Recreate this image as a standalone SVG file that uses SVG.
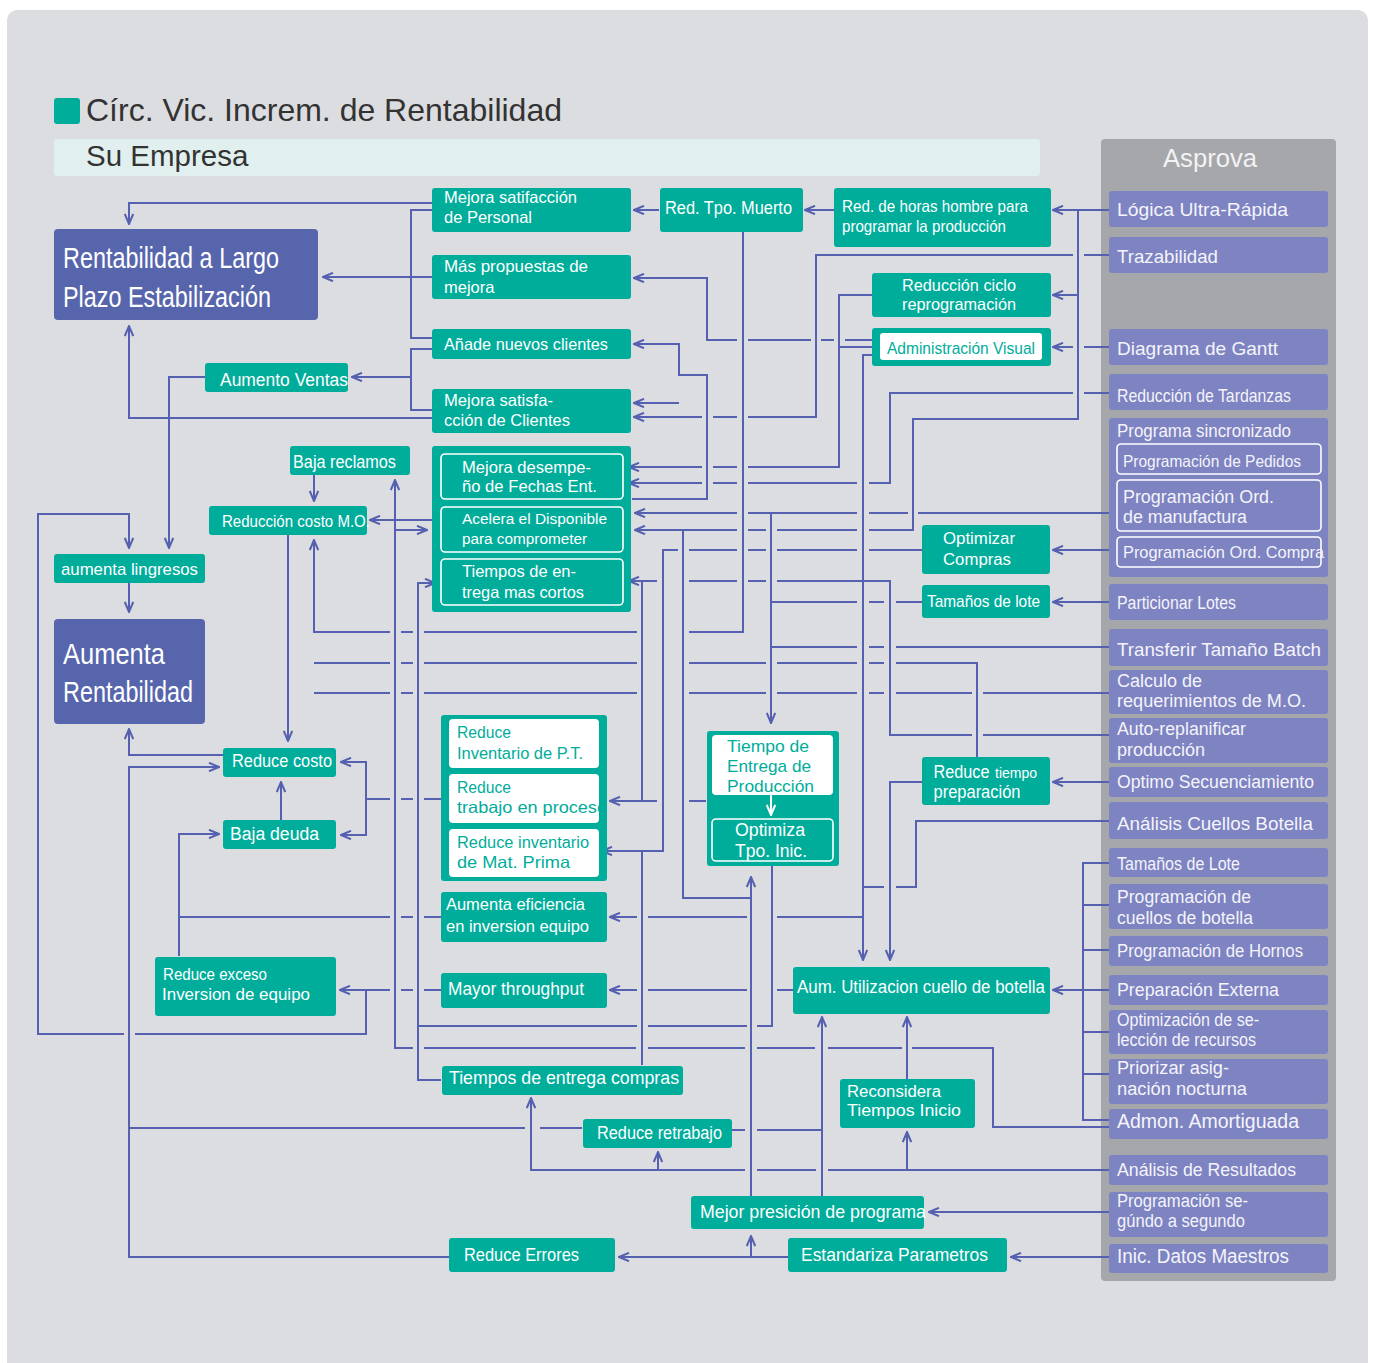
<svg xmlns="http://www.w3.org/2000/svg" width="1373" height="1363" viewBox="0 0 1373 1363">
<defs>
<marker id="ah" viewBox="0 0 12 10" refX="11" refY="5" markerWidth="12" markerHeight="10" markerUnits="userSpaceOnUse" orient="auto"><path d="M1,0.8 L11,5 L1,9.2" fill="none" stroke="#5560b0" stroke-width="2"/></marker>
<marker id="aw" viewBox="0 0 12 10" refX="11" refY="5" markerWidth="12" markerHeight="10" markerUnits="userSpaceOnUse" orient="auto"><path d="M1,0.8 L11,5 L1,9.2" fill="none" stroke="#ffffff" stroke-width="2"/></marker>
</defs>
<style>
.tl{fill:#00ad9b}
.db{fill:#5765ad}
.pu{fill:#7e83c2}
.pn{fill:#a6a7ab}
.wf{fill:#ffffff}
.wo{fill:none;stroke:#ffffff;stroke-width:1.6}
.c{fill:none;stroke:#5560b0;stroke-width:2}
.a{marker-end:url(#ah)}
text{font-family:"Liberation Sans",Arial,sans-serif}
.tw{fill:#ffffff}
.tt{fill:#00ad9b}
.tp{fill:#f4f4fa}
</style>
<rect x="0" y="0" width="1373" height="1363" fill="#ffffff"/>
<rect x="7" y="10" width="1361" height="1370" rx="10" fill="#dcdde0"/>

<g id="title">
<rect x="54" y="98" width="26" height="26" rx="3" class="tl"/>
<text x="86" y="121" font-size="32" fill="#333333" textLength="476" lengthAdjust="spacingAndGlyphs">Círc. Vic. Increm. de Rentabilidad</text>
<rect x="54" y="139" width="986" height="37" rx="3" fill="#e1f0ee"/>
<text x="86" y="165.5" font-size="29.5" fill="#333333">Su Empresa</text>
</g>

<g id="asprova-panel">
<rect x="1101" y="139" width="235" height="1142" rx="4" class="pn"/>
<text x="1163" y="167" font-size="25" fill="#f2f2f4" textLength="94" lengthAdjust="spacingAndGlyphs">Asprova</text>
</g>

<g id="connectors">
<path class="c a" d="M432,203 H129 V224"/>
<path class="c" d="M432,210 H411 V338 H432"/>
<path class="c a" d="M432,277 H323"/>
<path class="c" d="M432,349 H411 V410 H432"/>
<path class="c a" d="M411,377 H352"/>
<path class="c a" d="M432,418 H129 V326"/>
<path class="c a" d="M205,377 H169 V548"/>
<path class="c a" d="M441,990 H424 M413,990 H401 M390,990 H340"/>
<path class="c a" d="M366,990 V1034 H135 M124,1034 H38 V514 H129 V548"/>
<path class="c a" d="M129,583 V612"/>
<path class="c a" d="M314,475 V501"/>
<path class="c a" d="M432,520 H370"/>
<path class="c a" d="M1109,1127 H993 V1048 H912 M902,1048 H828 M815,1048 H757 M745,1048 H648 M636,1048 H424 M413,1048 H395 V530 H427"/>
<path class="c a" d="M395,530 V480"/>
<path class="c a" d="M441,1080 H418 V583 H435"/>
<path class="c" d="M772,866 V1026 H757 M747,1026 H648 M637,1026 H418"/>
<path class="c a" d="M743,232 V632 H689 M637,632 H424 M413,632 H401 M390,632 H314 V540"/>
<path class="c" d="M977,757 V663 H896 M884,663 H869 M857,663 H777 M766,663 H689 M637,663 H424 M413,663 H401 M390,663 H314"/>
<path class="c" d="M1109,693 H983 M972,693 H896 M884,693 H869 M857,693 H777 M766,693 H689 M637,693 H424 M413,693 H401 M390,693 H314"/>
<path class="c a" d="M288,535 V741"/>
<path class="c a" d="M223,755 H129 V729"/>
<path class="c a" d="M449,1257 H129 V767 H219"/>
<path class="c" d="M582,1128 H540 M525,1128 H129"/>
<path class="c a" d="M441,799 H424 M413,799 H401 M390,799 H366 V762 H341"/>
<path class="c a" d="M366,799 V835 H341"/>
<path class="c a" d="M281,820 V782"/>
<path class="c a" d="M179,956 V834 H219"/>
<path class="c" d="M441,917 H424 M413,917 H401 M390,917 H179"/>
<path class="c a" d="M872,340 H845 M834,340 H821 M811,340 H748 M737,340 H707 V278 H634"/>
<path class="c a" d="M659,210 H634"/>
<path class="c a" d="M834,210 H805"/>
<path class="c a" d="M1109,210 H1053"/>
<path class="c a" d="M1078,210 V419 H913 V530 H869 M857,530 H777 M766,530 H748 M737,530 H635"/>
<path class="c a" d="M1078,295 H1053"/>
<path class="c a" d="M751,1196 V877"/>
<path class="c" d="M751,898 H683 V530"/>
<path class="c a" d="M1109,255 H1084 M1073,255 H816 V417 H748 M737,417 H713 M702,417 H634"/>
<path class="c a" d="M1109,347 H1084 M1073,347 H1053"/>
<path class="c a" d="M872,295 H839 V467 H748 M737,467 H713 M702,467 H629"/>
<path class="c" d="M872,347 H839"/>
<path class="c a" d="M1109,393 H1084 M1073,393 H890 V483 H869 M857,483 H748 M737,483 H713 M702,483 H629"/>
<path class="c a" d="M632,499 H707 V375 H679 V344 H634"/>
<path class="c a" d="M679,403 H634"/>
<path class="c a" d="M872,355 H863 V960"/>
<path class="c" d="M1109,821 H916 V887 H896 M884,887 H863"/>
<path class="c a" d="M863,917 H777 M747,917 H648 M637,917 H610"/>
<path class="c a" d="M1109,513 H918 M908,513 H869 M857,513 H748 M737,513 H635"/>
<path class="c a" d="M771,513 V723"/>
<path class="c a" d="M922,550 H869 M857,550 H777 M766,550 H748 M737,550 H689 M678,550 H663 V851 H602"/>
<path class="c" d="M642,1065 V851"/>
<path class="c a" d="M1116,550 H1053"/>
<path class="c a" d="M1109,735 H983 M972,735 H890 V581 H777 M766,581 H748 M737,581 H689 M657,581 H629"/>
<path class="c a" d="M706,801 H689 M657,801 H610"/>
<path class="c" d="M642,801 V581"/>
<path class="c a" d="M1109,602 H1053"/>
<path class="c" d="M922,602 H896 M884,602 H869 M857,602 H771"/>
<path class="c" d="M1109,647 H896 M884,647 H869 M857,647 H771"/>
<path class="c a" d="M1109,782 H1053"/>
<path class="c a" d="M922,782 H890 V960"/>
<path class="c a" d="M793,990 H777 M747,990 H648 M637,990 H610"/>
<path class="c" d="M1109,863 H1083 V1120 H1109 M1083,905 H1109 M1083,950 H1109 M1083,1032 H1109 M1083,1074 H1109"/>
<path class="c a" d="M1109,990 H1053"/>
<path class="c a" d="M822,1196 V1017"/>
<path class="c" d="M732,1130 H745 M757,1130 H822"/>
<path class="c a" d="M907,1079 V1017"/>
<path class="c a" d="M1109,1170 H828 M816,1170 H757 M745,1170 H531 V1098"/>
<path class="c a" d="M907,1170 V1132"/>
<path class="c a" d="M658,1170 V1152"/>
<path class="c a" d="M1109,1212 H929"/>
<path class="c a" d="M1109,1257 H1011"/>
<path class="c a" d="M789,1257 H619"/>
<path class="c a" d="M751,1257 V1236"/>
</g>

<g id="n-rentabilidad-largo">
<rect x="54" y="229" width="264" height="91" rx="4" class="db"/>
<text x="63" y="268" font-size="29" class="tw" textLength="216" lengthAdjust="spacingAndGlyphs">Rentabilidad a Largo</text>
<text x="63" y="307" font-size="29" class="tw" textLength="208" lengthAdjust="spacingAndGlyphs">Plazo Estabilización</text>
</g>
<g id="n-aumenta-rentabilidad">
<rect x="54" y="619" width="151" height="105" rx="4" class="db"/>
<text x="63" y="664" font-size="30" class="tw" textLength="102" lengthAdjust="spacingAndGlyphs">Aumenta</text>
<text x="63" y="702" font-size="30" class="tw" textLength="130" lengthAdjust="spacingAndGlyphs">Rentabilidad</text>
</g>
<g id="n-aumenta-ingresos">
<rect x="54" y="554" width="151" height="29" rx="3" class="tl"/>
<text x="61" y="575" font-size="17" class="tw" textLength="137" lengthAdjust="spacingAndGlyphs">aumenta lingresos</text>
</g>
<g id="n-aumento-ventas">
<rect x="205" y="363" width="143" height="29" rx="3" class="tl"/>
<text x="220" y="386" font-size="18" class="tw" textLength="128" lengthAdjust="spacingAndGlyphs">Aumento Ventas</text>
</g>
<g id="n-baja-reclamos">
<rect x="290" y="446" width="120" height="29" rx="3" class="tl"/>
<text x="293" y="468" font-size="17.5" class="tw" textLength="103" lengthAdjust="spacingAndGlyphs">Baja reclamos</text>
</g>
<g id="n-reduccion-costo-mo">
<rect x="209" y="506" width="158" height="29" rx="3" class="tl"/>
<text x="222" y="527" font-size="17" class="tw" textLength="148" lengthAdjust="spacingAndGlyphs">Reducción costo M.O.</text>
</g>
<g id="n-reduce-costo">
<rect x="223" y="748" width="113" height="29" rx="3" class="tl"/>
<text x="232" y="767" font-size="18" class="tw" textLength="100" lengthAdjust="spacingAndGlyphs">Reduce costo</text>
</g>
<g id="n-baja-deuda">
<rect x="223" y="820" width="113" height="29" rx="3" class="tl"/>
<text x="230" y="840" font-size="18" class="tw" textLength="89" lengthAdjust="spacingAndGlyphs">Baja deuda</text>
</g>
<g id="n-reduce-exceso">
<rect x="155" y="957" width="181" height="59" rx="3" class="tl"/>
<text x="163" y="980" font-size="17" class="tw" textLength="104" lengthAdjust="spacingAndGlyphs">Reduce exceso</text>
<text x="162" y="1000" font-size="17" class="tw" textLength="148" lengthAdjust="spacingAndGlyphs">Inversion de equipo</text>
</g>
<g id="n-mejora-personal">
<rect x="432" y="188" width="199" height="44" rx="3" class="tl"/>
<text x="444" y="203" font-size="16.5" class="tw" textLength="133" lengthAdjust="spacingAndGlyphs">Mejora satifacción</text>
<text x="444" y="223" font-size="16.5" class="tw" textLength="88" lengthAdjust="spacingAndGlyphs">de Personal</text>
</g>
<g id="n-mas-propuestas">
<rect x="432" y="255" width="199" height="44" rx="3" class="tl"/>
<text x="444" y="272" font-size="16.5" class="tw" textLength="144" lengthAdjust="spacingAndGlyphs">Más propuestas de</text>
<text x="444" y="293" font-size="16.5" class="tw">mejora</text>
</g>
<g id="n-anade-clientes">
<rect x="432" y="329" width="199" height="30" rx="3" class="tl"/>
<text x="444" y="350" font-size="16.5" class="tw" textLength="164" lengthAdjust="spacingAndGlyphs">Añade nuevos clientes</text>
</g>
<g id="n-mejora-clientes">
<rect x="432" y="389" width="199" height="44" rx="3" class="tl"/>
<text x="444" y="406" font-size="16.5" class="tw" textLength="109" lengthAdjust="spacingAndGlyphs">Mejora satisfa-</text>
<text x="444" y="426" font-size="16.5" class="tw" textLength="126" lengthAdjust="spacingAndGlyphs">cción de Clientes</text>
</g>
<g id="n-grupo-fechas">
<rect x="432" y="446" width="199" height="166" rx="3" class="tl"/>
<rect x="441" y="454" width="182" height="45" rx="4" class="wo"/>
<rect x="441" y="507" width="182" height="45" rx="4" class="wo"/>
<rect x="441" y="559" width="182" height="46" rx="4" class="wo"/>
<text x="462" y="472.7" font-size="16.5" class="tw" textLength="129" lengthAdjust="spacingAndGlyphs">Mejora desempe-</text>
<text x="462" y="492.3" font-size="16.5" class="tw" textLength="135" lengthAdjust="spacingAndGlyphs">ño de Fechas Ent.</text>
<text x="462" y="524.3" font-size="15.5" class="tw" textLength="145" lengthAdjust="spacingAndGlyphs">Acelera el Disponible</text>
<text x="462" y="544.3" font-size="15.5" class="tw" textLength="125" lengthAdjust="spacingAndGlyphs">para comprometer</text>
<text x="462" y="577.3" font-size="16.5" class="tw" textLength="114" lengthAdjust="spacingAndGlyphs">Tiempos de en-</text>
<text x="462" y="597.7" font-size="16.5" class="tw" textLength="122" lengthAdjust="spacingAndGlyphs">trega mas cortos</text>
</g>
<g id="n-red-tpo-muerto">
<rect x="660" y="188" width="143" height="44" rx="3" class="tl"/>
<text x="665" y="214" font-size="18" class="tw" textLength="127" lengthAdjust="spacingAndGlyphs">Red. Tpo. Muerto</text>
</g>
<g id="n-red-horas">
<rect x="834" y="188" width="217" height="59" rx="3" class="tl"/>
<text x="842" y="212" font-size="16.5" class="tw" textLength="186" lengthAdjust="spacingAndGlyphs">Red. de horas hombre para</text>
<text x="842" y="232" font-size="16.5" class="tw" textLength="164" lengthAdjust="spacingAndGlyphs">programar la producción</text>
</g>
<g id="n-reduccion-ciclo">
<rect x="872" y="273" width="179" height="44" rx="3" class="tl"/>
<text x="902" y="291" font-size="16.5" class="tw" textLength="114" lengthAdjust="spacingAndGlyphs">Reducción ciclo</text>
<text x="902" y="310" font-size="16.5" class="tw" textLength="114" lengthAdjust="spacingAndGlyphs">reprogramación</text>
</g>
<g id="n-admin-visual">
<rect x="872" y="328" width="179" height="38" rx="3" class="tl"/>
<rect x="880" y="333" width="162" height="27" rx="3" class="wf"/>
<text x="887" y="354" font-size="17" class="tt" textLength="148" lengthAdjust="spacingAndGlyphs">Administración Visual</text>
</g>
<g id="n-optimizar-compras">
<rect x="922" y="525" width="128" height="49" rx="3" class="tl"/>
<text x="943" y="544" font-size="17" class="tw" textLength="72" lengthAdjust="spacingAndGlyphs">Optimizar</text>
<text x="943" y="565" font-size="17" class="tw" textLength="68" lengthAdjust="spacingAndGlyphs">Compras</text>
</g>
<g id="n-tamanos-lote">
<rect x="922" y="585" width="128" height="33" rx="3" class="tl"/>
<text x="927" y="607" font-size="17" class="tw" textLength="113" lengthAdjust="spacingAndGlyphs">Tamaños de lote</text>
</g>
<g id="n-reduce-tiempo-prep">
<rect x="922" y="757" width="128" height="48" rx="3" class="tl"/>
<text x="933.5" y="778" font-size="17.5" class="tw" textLength="56" lengthAdjust="spacingAndGlyphs">Reduce</text>
<text x="995" y="778" font-size="14" class="tw" textLength="42" lengthAdjust="spacingAndGlyphs">tiempo</text>
<text x="933.5" y="798" font-size="17.5" class="tw" textLength="87" lengthAdjust="spacingAndGlyphs">preparación</text>
</g>
<g id="n-tiempo-entrega-prod">
<rect x="707" y="731" width="132" height="135" rx="3" class="tl"/>
<rect x="712" y="735" width="121" height="60" rx="4" class="wf"/>
<text x="727" y="752" font-size="17" class="tt" textLength="82" lengthAdjust="spacingAndGlyphs">Tiempo de</text>
<text x="727" y="772" font-size="17" class="tt" textLength="84" lengthAdjust="spacingAndGlyphs">Entrega de</text>
<text x="727" y="792" font-size="17" class="tt" textLength="87" lengthAdjust="spacingAndGlyphs">Producción</text>
<path d="M771,795 V815" fill="none" stroke="#ffffff" stroke-width="2" marker-end="url(#aw)"/>
<rect x="712" y="819" width="121" height="42" rx="4" class="wo"/>
<text x="770" y="836" font-size="17.5" class="tw" text-anchor="middle" textLength="70" lengthAdjust="spacingAndGlyphs">Optimiza</text>
<text x="771" y="857" font-size="17.5" class="tw" text-anchor="middle" textLength="72" lengthAdjust="spacingAndGlyphs">Tpo. Inic.</text>
</g>
<g id="n-grupo-inventario">
<rect x="441" y="715" width="166" height="166" rx="3" class="tl"/>
<rect x="449" y="719" width="150" height="49" rx="4" class="wf"/>
<rect x="449" y="774" width="150" height="49" rx="4" class="wf"/>
<rect x="449" y="829" width="150" height="48" rx="4" class="wf"/>
<text x="457" y="738.3" font-size="16" class="tt" textLength="54" lengthAdjust="spacingAndGlyphs">Reduce</text>
<text x="457" y="759" font-size="16" class="tt" textLength="126" lengthAdjust="spacingAndGlyphs">Inventario de P.T.</text>
<text x="457" y="792.7" font-size="16" class="tt" textLength="54" lengthAdjust="spacingAndGlyphs">Reduce</text>
<text x="457" y="813.3" font-size="16.5" class="tt" textLength="150" lengthAdjust="spacingAndGlyphs">trabajo en proceso</text>
<text x="457" y="847.7" font-size="16" class="tt" textLength="132" lengthAdjust="spacingAndGlyphs">Reduce inventario</text>
<text x="457" y="868.3" font-size="16.5" class="tt" textLength="113" lengthAdjust="spacingAndGlyphs">de Mat. Prima</text>
</g>
<g id="n-aumenta-eficiencia">
<rect x="441" y="892" width="166" height="50" rx="3" class="tl"/>
<text x="446" y="910" font-size="16" class="tw" textLength="139" lengthAdjust="spacingAndGlyphs">Aumenta eficiencia</text>
<text x="446" y="931.7" font-size="16" class="tw" textLength="143" lengthAdjust="spacingAndGlyphs">en inversion equipo</text>
</g>
<g id="n-mayor-throughput">
<rect x="441" y="973" width="166" height="35" rx="3" class="tl"/>
<text x="448" y="995" font-size="17.5" class="tw" textLength="136" lengthAdjust="spacingAndGlyphs">Mayor throughput</text>
</g>
<g id="n-aum-utilizacion">
<rect x="793" y="967" width="257" height="47" rx="3" class="tl"/>
<text x="797" y="993" font-size="17.5" class="tw" textLength="248" lengthAdjust="spacingAndGlyphs">Aum. Utilizacion cuello de botella</text>
</g>
<g id="n-tiempos-entrega-compras">
<rect x="442" y="1066" width="241" height="29" rx="3" class="tl"/>
<text x="449" y="1083.5" font-size="18.5" class="tw" textLength="230" lengthAdjust="spacingAndGlyphs">Tiempos de entrega compras</text>
</g>
<g id="n-reduce-retrabajo">
<rect x="583" y="1119" width="149" height="29" rx="3" class="tl"/>
<text x="597" y="1138.5" font-size="18" class="tw" textLength="125" lengthAdjust="spacingAndGlyphs">Reduce retrabajo</text>
</g>
<g id="n-reconsidera">
<rect x="840" y="1079" width="135" height="49" rx="3" class="tl"/>
<text x="847" y="1097" font-size="16" class="tw" textLength="94" lengthAdjust="spacingAndGlyphs">Reconsidera</text>
<text x="847" y="1116" font-size="16" class="tw" textLength="114" lengthAdjust="spacingAndGlyphs">Tiempos Inicio</text>
</g>
<g id="n-mejor-presicion">
<rect x="691" y="1196" width="233" height="33" rx="3" class="tl"/>
<text x="700" y="1218" font-size="18.5" class="tw" textLength="226" lengthAdjust="spacingAndGlyphs">Mejor presición de programa</text>
</g>
<g id="n-estandariza">
<rect x="788" y="1238" width="219" height="34" rx="3" class="tl"/>
<text x="801" y="1261" font-size="18.5" class="tw" textLength="187" lengthAdjust="spacingAndGlyphs">Estandariza Parametros</text>
</g>
<g id="n-reduce-errores">
<rect x="449" y="1238" width="166" height="34" rx="3" class="tl"/>
<text x="464" y="1261" font-size="18.5" class="tw" textLength="115" lengthAdjust="spacingAndGlyphs">Reduce Errores</text>
</g>

<g id="a-logica"><rect x="1109" y="191" width="219" height="36" rx="3" class="pu"/><text x="1117" y="216" font-size="19" class="tp" textLength="171" lengthAdjust="spacingAndGlyphs">Lógica Ultra-Rápida</text></g>
<g id="a-trazabilidad"><rect x="1109" y="237" width="219" height="36" rx="3" class="pu"/><text x="1117" y="263" font-size="19" class="tp" textLength="101" lengthAdjust="spacingAndGlyphs">Trazabilidad</text></g>
<g id="a-gantt"><rect x="1109" y="329" width="219" height="36" rx="3" class="pu"/><text x="1117" y="355" font-size="19" class="tp" textLength="161" lengthAdjust="spacingAndGlyphs">Diagrama de Gantt</text></g>
<g id="a-tardanzas"><rect x="1109" y="374" width="219" height="36" rx="3" class="pu"/><text x="1117" y="401.5" font-size="18.5" class="tp" textLength="174" lengthAdjust="spacingAndGlyphs">Reducción de Tardanzas</text></g>
<g id="a-programa-sincronizado">
<rect x="1109" y="418" width="219" height="159" rx="3" class="pu"/>
<text x="1117" y="437" font-size="17.5" class="tp" textLength="174" lengthAdjust="spacingAndGlyphs">Programa sincronizado</text>
<rect x="1117" y="444" width="204" height="30" rx="4" class="wo"/>
<text x="1123" y="466.5" font-size="16.5" class="tp" textLength="178" lengthAdjust="spacingAndGlyphs">Programación de Pedidos</text>
<rect x="1117" y="480" width="204" height="51" rx="4" class="wo"/>
<text x="1123" y="503" font-size="18" class="tp" textLength="151" lengthAdjust="spacingAndGlyphs">Programación Ord.</text>
<text x="1123" y="523" font-size="18" class="tp" textLength="124" lengthAdjust="spacingAndGlyphs">de manufactura</text>
<rect x="1117" y="537" width="204" height="30" rx="4" class="wo"/>
<text x="1123" y="558" font-size="17" class="tp" textLength="201" lengthAdjust="spacingAndGlyphs">Programación Ord. Compra</text>
</g>
<g id="a-particionar"><rect x="1109" y="584" width="219" height="36" rx="3" class="pu"/><text x="1117" y="609" font-size="18" class="tp" textLength="119" lengthAdjust="spacingAndGlyphs">Particionar Lotes</text></g>
<g id="a-transferir"><rect x="1109" y="629" width="219" height="37" rx="3" class="pu"/><text x="1117" y="655.7" font-size="18.5" class="tp" textLength="204" lengthAdjust="spacingAndGlyphs">Transferir Tamaño Batch</text></g>
<g id="a-calculo"><rect x="1109" y="670" width="219" height="44" rx="3" class="pu"/><text x="1117" y="687" font-size="18" class="tp" textLength="85" lengthAdjust="spacingAndGlyphs">Calculo de</text><text x="1117" y="706.7" font-size="18" class="tp" textLength="189" lengthAdjust="spacingAndGlyphs">requerimientos de M.O.</text></g>
<g id="a-auto-replan"><rect x="1109" y="718" width="219" height="45" rx="3" class="pu"/><text x="1117" y="735" font-size="18" class="tp" textLength="129" lengthAdjust="spacingAndGlyphs">Auto-replanificar</text><text x="1117" y="756" font-size="18" class="tp" textLength="88" lengthAdjust="spacingAndGlyphs">producción</text></g>
<g id="a-optimo"><rect x="1109" y="767" width="219" height="30" rx="3" class="pu"/><text x="1117" y="788" font-size="18" class="tp" textLength="197" lengthAdjust="spacingAndGlyphs">Optimo Secuenciamiento</text></g>
<g id="a-analisis-cuellos"><rect x="1109" y="802" width="219" height="37" rx="3" class="pu"/><text x="1117" y="830" font-size="19" class="tp" textLength="196" lengthAdjust="spacingAndGlyphs">Análisis Cuellos Botella</text></g>
<g id="a-tamanos-lote"><rect x="1109" y="848" width="219" height="29" rx="3" class="pu"/><text x="1117" y="870" font-size="17.5" class="tp" textLength="123" lengthAdjust="spacingAndGlyphs">Tamaños de Lote</text></g>
<g id="a-prog-cuellos"><rect x="1109" y="884" width="219" height="45" rx="3" class="pu"/><text x="1117" y="903" font-size="17.5" class="tp" textLength="134" lengthAdjust="spacingAndGlyphs">Programación de</text><text x="1117" y="924" font-size="17.5" class="tp" textLength="136" lengthAdjust="spacingAndGlyphs">cuellos de botella</text></g>
<g id="a-hornos"><rect x="1109" y="936" width="219" height="30" rx="3" class="pu"/><text x="1117" y="957" font-size="17.5" class="tp" textLength="186" lengthAdjust="spacingAndGlyphs">Programación de Hornos</text></g>
<g id="a-prep-externa"><rect x="1109" y="975" width="219" height="30" rx="3" class="pu"/><text x="1117" y="996" font-size="18" class="tp" textLength="162" lengthAdjust="spacingAndGlyphs">Preparación Externa</text></g>
<g id="a-optimizacion"><rect x="1109" y="1010" width="219" height="44" rx="3" class="pu"/><text x="1117" y="1026" font-size="17.5" class="tp" textLength="142" lengthAdjust="spacingAndGlyphs">Optimización de se-</text><text x="1117" y="1046" font-size="17.5" class="tp" textLength="139" lengthAdjust="spacingAndGlyphs">lección de recursos</text></g>
<g id="a-priorizar"><rect x="1109" y="1059" width="219" height="45" rx="3" class="pu"/><text x="1117" y="1074" font-size="18" class="tp" textLength="112" lengthAdjust="spacingAndGlyphs">Priorizar asig-</text><text x="1117" y="1095" font-size="18" class="tp" textLength="130" lengthAdjust="spacingAndGlyphs">nación nocturna</text></g>
<g id="a-admon"><rect x="1109" y="1109" width="219" height="30" rx="3" class="pu"/><text x="1117" y="1128" font-size="19.5" class="tp" textLength="182" lengthAdjust="spacingAndGlyphs">Admon. Amortiguada</text></g>
<g id="a-analisis-resultados"><rect x="1109" y="1155" width="219" height="30" rx="3" class="pu"/><text x="1117" y="1176" font-size="18.5" class="tp" textLength="179" lengthAdjust="spacingAndGlyphs">Análisis de Resultados</text></g>
<g id="a-prog-segundo"><rect x="1109" y="1192" width="219" height="45" rx="3" class="pu"/><text x="1117" y="1206.7" font-size="18" class="tp" textLength="131" lengthAdjust="spacingAndGlyphs">Programación se-</text><text x="1117" y="1227" font-size="18" class="tp" textLength="128" lengthAdjust="spacingAndGlyphs">gúndo a segundo</text></g>
<g id="a-inic-datos"><rect x="1109" y="1244" width="219" height="29" rx="3" class="pu"/><text x="1117" y="1262.7" font-size="19.5" class="tp" textLength="172" lengthAdjust="spacingAndGlyphs">Inic. Datos Maestros</text></g>
</svg>
